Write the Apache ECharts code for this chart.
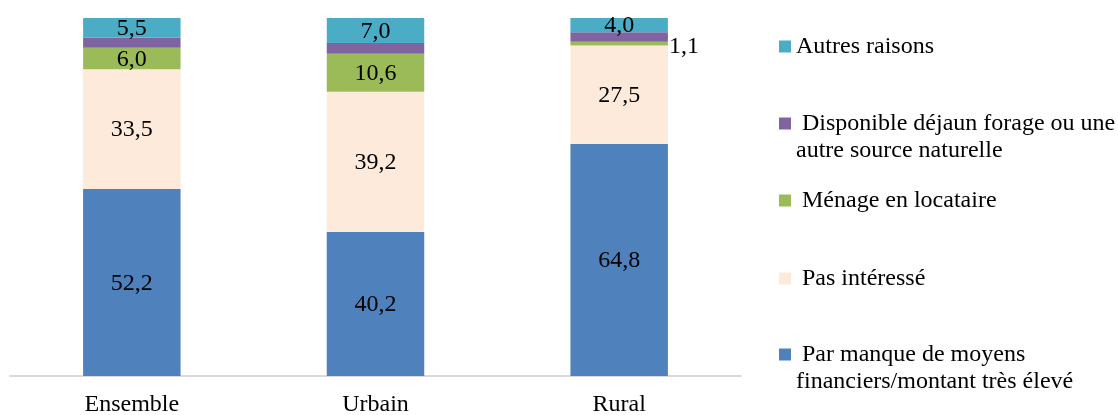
<!DOCTYPE html>
<html>
<head>
<meta charset="utf-8">
<script src="https://cdn.jsdelivr.net/npm/echarts@6/dist/echarts.min.js"></script>
<style>
html,body{margin:0;padding:0;background:#fff;}
#chart{width:1118px;height:415px;}
</style>
</head>
<body>
<div id="chart"></div>
<script>
const categories = ['Ensemble', 'Urbain', 'Rural'];
const manqueMoyens = [52.2, 40.2, 64.8];
const pasInteresse = [33.5, 39.2, 27.5];
const locataire = [6.0, 10.6, 1.1];
const disponible = [2.8, 3.0, 2.6];
const autres = [5.5, 7.0, 4.0];

const seriesNames = [
  'Par manque de moyens financiers/montant très élevé',
  'Pas intéressé',
  'Ménage en locataire',
  'Disponible déjaun forage ou une autre source naturelle',
  'Autres raisons'
];
const legendText = {
  'Autres raisons': 'Autres raisons',
  'Disponible déjaun forage ou une autre source naturelle': '\n Disponible déjaun forage ou une\nautre source naturelle',
  'Ménage en locataire': ' Ménage en locataire',
  'Pas intéressé': ' Pas intéressé',
  'Par manque de moyens financiers/montant très élevé': '\n Par manque de moyens\nfinanciers/montant très élevé'
};
const colors = ['#4F81BD', '#FDEADA', '#9BBB59', '#8064A2', '#4BACC6'];
const FONT = '"Liberation Serif", "Times New Roman", serif';
const FS = 24;
const LH = 27;

const fmt = p => p.value.toFixed(1).replace('.', ',');

function mkSeries(name, data, color, showLabel) {
  return {
    name: name,
    type: 'bar',
    stack: 'total',
    barWidth: '40%',
    itemStyle: { color: color },
    label: {
      show: showLabel,
      position: 'inside',
      formatter: fmt,
      color: '#000',
      fontFamily: FONT,
      fontSize: FS,
      offset: [0, 1]
    },
    data: data
  };
}

const locataireData = locataire.map((v, i) => i === 2 ? { value: v, label: { position: 'right', distance: 1, offset: [0, 3] } } : v);

function mkLegend(name, top) {
  return {
    orient: 'vertical',
    left: 779,
    top: top,
    padding: 0,
    itemWidth: 12,
    itemHeight: 12,
    icon: 'rect',
    selectedMode: false,
    data: [name],
    formatter: n => legendText[n],
    textStyle: {
      fontFamily: FONT,
      fontSize: FS,
      color: '#000',
      lineHeight: LH
    }
  };
}

const option = {
  animation: false,
  backgroundColor: '#fff',
  grid: { left: 10, right: 377, top: 18, bottom: 39, containLabel: false, outerBoundsMode: 'none' },
  xAxis: {
    type: 'category',
    data: categories,
    axisLine: { lineStyle: { color: '#D9D9D9', width: 2 } },
    axisTick: { show: false },
    axisLabel: { color: '#000', fontFamily: FONT, fontSize: FS, margin: 17 }
  },
  yAxis: {
    type: 'value',
    min: 0,
    max: 100,
    show: false,
    splitLine: { show: false }
  },
  legend: [
    mkLegend('Autres raisons', 33),
    mkLegend('Disponible déjaun forage ou une autre source naturelle', 83),
    mkLegend('Ménage en locataire', 187),
    mkLegend('Pas intéressé', 265),
    mkLegend('Par manque de moyens financiers/montant très élevé', 314)
  ],
  series: [
    mkSeries(seriesNames[0], manqueMoyens, colors[0], true),
    mkSeries(seriesNames[1], pasInteresse, colors[1], true),
    mkSeries(seriesNames[2], locataireData, colors[2], true),
    mkSeries(seriesNames[3], disponible, colors[3], false),
    mkSeries(seriesNames[4], autres, colors[4], true)
  ]
};

const chart = echarts.init(document.getElementById('chart'), null, { renderer: 'canvas' });
chart.setOption(option);
</script>
</body>
</html>
